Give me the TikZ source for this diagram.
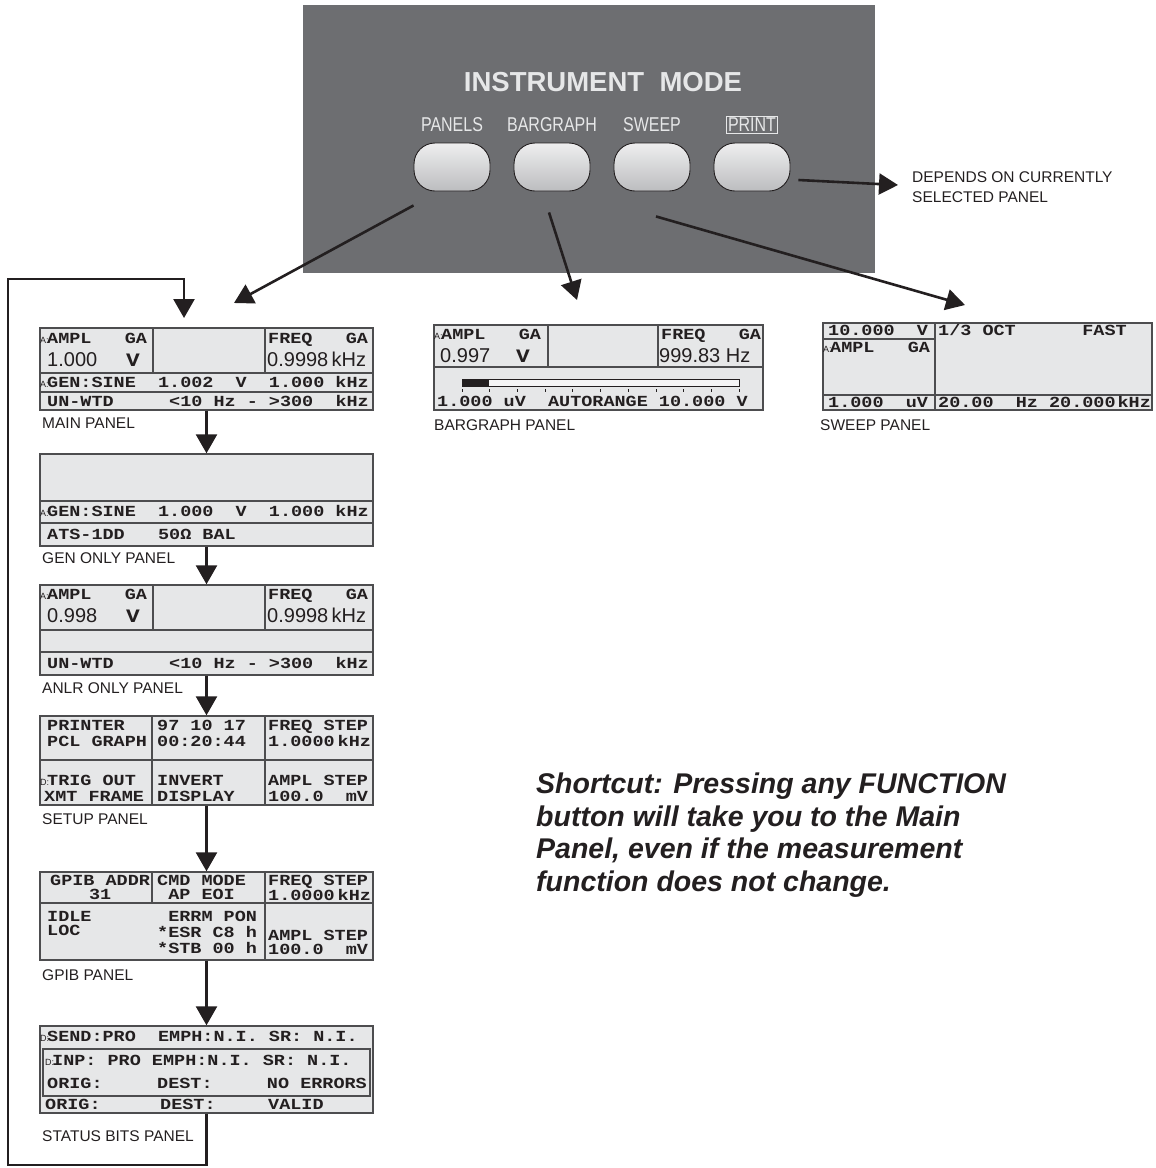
\documentclass[tikz,border=0pt]{standalone}
\usepackage{fontspec}
\setmainfont{Liberation Sans}
\newfontfamily\lcdfont[FakeStretch=1.2]{Liberation Mono}
\newfontfamily\narrowfont[FakeStretch=0.8]{Liberation Sans}
\usetikzlibrary{arrows.meta,calc}
\definecolor{ink}{HTML}{231F20}
\definecolor{bezel}{HTML}{6D6E71}
\definecolor{legend}{HTML}{E6E7E8}
\definecolor{lcdbg}{HTML}{E6E7E8}
\definecolor{lcdedge}{HTML}{4D4D4F}
\definecolor{keytop}{HTML}{EEEEEF}
\definecolor{keybot}{HTML}{BCBDBF}
\newcommand{\lcd}{\lcdfont\bfseries\fontsize{15.4}{15.4}\selectfont}
\newcommand{\pfx}[1]{\makebox[7pt][l]{\normalfont\fontsize{9}{9}\selectfont #1:}}
% stacked lcd lines: pitch, column alignment, lines
\newcommand{\stack}[3]{{\fontsize{15.4}{#1}\selectfont\begin{tabular}[t]{@{}#2@{}}#3\end{tabular}}}
\tikzset{
  lcdpanel/.style={draw=lcdedge,fill=lcdbg,line width=1.4pt,inner sep=0pt},
  lcdrule/.style={draw=lcdedge,line width=1.2pt},
  lcd/.style={anchor=base west,inner sep=0pt,font=\lcd,text=ink,text height=8.5pt,text depth=1pt},
  lcdstack/.style={anchor=base west,inner sep=0pt,font=\lcd,text=ink},
  bignum/.style={anchor=base west,inner sep=0pt,font=\fontsize{20}{20}\selectfont,text=ink},
  bigunit/.style={anchor=base west,inner sep=0pt,font=\lcdfont\bfseries\fontsize{19}{19}\selectfont,text=ink},
  plabel/.style={anchor=base west,inner sep=0pt,font=\fontsize{15.5}{15.5}\selectfont,text=ink},
  modekey/.style={draw=ink,line width=0.9pt,rounded corners=21pt,minimum width=76pt,minimum height=48pt,top color=keytop,bottom color=keybot},
  keylabel/.style={font=\narrowfont\fontsize{20}{20}\selectfont,text=legend,inner sep=1.5pt},
  flow/.style={-{Triangle[length=19pt,width=21pt]},line width=2.6pt,draw=ink}
}
\begin{document}
\begin{tikzpicture}[x=1pt,y=-1pt]
  \useasboundingbox (0,0) rectangle (1156,1168);
  % mode keys
  \fill[bezel] (303,5) rectangle (875,273);
  \node[font=\bfseries\fontsize{27.5}{27.5}\selectfont,text=legend] (title) at (603,82) {INSTRUMENT\ \ MODE};
  \node[keylabel] (lpanels) at (452,125) {PANELS};
  \node[keylabel] (lbar) at (552,125) {BARGRAPH};
  \node[keylabel] (lsweep) at (652,125) {SWEEP};
  \node[keylabel,draw=legend,line width=1pt] (lprint) at (752,125) {PRINT};
  \node[modekey] (bpanels) at (452,167) {};
  \node[modekey] (bbar) at (552,167) {};
  \node[modekey] (bsweep) at (652,167) {};
  \node[modekey] (bprint) at (752,167) {};
  \node[plabel,anchor=west,align=left,font=\fontsize{15.5}{20}\selectfont] (note) at (912,187) {DEPENDS ON CURRENTLY\\SELECTED PANEL};
  \coordinate (tipmain) at (234,303);
  \coordinate (tipbar) at (577,300);
  \coordinate (tipsweep) at (965,305);
  \coordinate (tipprint) at (898,185);
  \draw[flow] ($(bpanels.south west)+(0,14)$) -- (tipmain);
  \draw[flow] ($(bbar.south)+(-3,21)$) -- (tipbar);
  \draw[flow] ($(bsweep.south)+(4,25)$) -- (tipsweep);
  \draw[flow] ($(bprint.east)+(8,13)$) -- (tipprint);

  % main panel
  \node[lcdpanel,minimum width=333pt,minimum height=82pt] (mainp) at (206.5,369) {};
  \draw[lcdrule] (40,373) -- (373,373) (40,392) -- (373,392) (153,328) -- (153,373) (265,328) -- (265,373);
  \node[lcd] (m1) at (40,343) {\pfx{A}AMPL~~~GA};
  \node[lcd] (m2) at (268,343) {FREQ~~~GA};
  \node[bignum] (m3) at (47,366) {1.000};
  \node[bigunit] (m4) at (126,366) {V};
  \node[bignum] (m5) at (267,366) {0.9998\,kHz};
  \node[lcd] (m6) at (40,387) {\pfx{A}GEN:SINE~~1.002~~V~~1.000~kHz};
  \node[lcd] (m7) at (47,406) {UN-WTD~~~~~<10~Hz~-~>300~~kHz};
  \node[plabel] (mainl) at (42,428) {MAIN PANEL};

  % gen only panel
  \node[lcdpanel,minimum width=333pt,minimum height=92pt] (genp) at (206.5,500) {};
  \draw[lcdrule] (40,501) -- (373,501) (40,523) -- (373,523);
  \node[lcd] (g1) at (40,516.5) {\pfx{A}GEN:SINE~~1.000~~V~~1.000~kHz};
  \node[lcd] (g2) at (47,539) {ATS-1DD~~~50Ω~BAL};
  \node[plabel] (genl) at (42,563) {GEN ONLY PANEL};

  % anlr only panel
  \node[lcdpanel,minimum width=333pt,minimum height=90pt] (anlrp) at (206.5,630) {};
  \draw[lcdrule] (40,630) -- (373,630) (40,652) -- (373,652) (153,585) -- (153,630) (265,585) -- (265,630);
  \node[lcd] (a1) at (40,599) {\pfx{A}AMPL~~~GA};
  \node[lcd] (a2) at (268,599) {FREQ~~~GA};
  \node[bignum] (a3) at (47,622) {0.998};
  \node[bigunit] (a4) at (126,622) {V};
  \node[bignum] (a5) at (267,622) {0.9998\,kHz};
  \node[lcd] (a6) at (47,668) {UN-WTD~~~~~<10~Hz~-~>300~~kHz};
  \node[plabel] (anlrl) at (42,693) {ANLR ONLY PANEL};

  % setup panel
  \node[lcdpanel,minimum width=333pt,minimum height=89pt] (setupp) at (206.5,760.5) {};
  \draw[lcdrule] (40,760) -- (373,760) (152,716) -- (152,805) (265,716) -- (265,805);
  \node[lcdstack] (u1) at (47,730.5) {\stack{16}{l}{PRINTER\\PCL~GRAPH}};
  \node[lcdstack] (u2) at (40,785.5) {\stack{15.5}{l}{\pfx{D}TRIG~OUT\\\hspace{4pt}XMT~FRAME}};
  \node[lcdstack] (u3) at (157,730.5) {\stack{16}{l}{97~10~17\\00:20:44}};
  \node[lcdstack] (u4) at (157,785.5) {\stack{15.5}{l}{INVERT\\DISPLAY}};
  \node[lcdstack] (u5) at (268,730.5) {\stack{16}{l}{FREQ~STEP\\1.0000\hspace{3pt}kHz}};
  \node[lcdstack] (u6) at (268,785.5) {\stack{15.5}{l}{AMPL~STEP\\100.0~~mV}};
  \node[plabel] (setupl) at (42,824) {SETUP PANEL};

  % gpib panel
  \node[lcdpanel,minimum width=333pt,minimum height=88pt] (gpibp) at (206.5,916) {};
  \draw[lcdrule] (40,903) -- (373,903) (152,872) -- (152,903) (265,872) -- (265,960);
  \node[lcdstack] (p1) at (50,885) {\stack{13}{c}{GPIB~ADDR\\31}};
  \node[lcdstack] (p2) at (157,885) {\stack{13}{c}{CMD~MODE\\AP~EOI}};
  \node[lcdstack] (p3) at (268,885) {\stack{13}{l}{FREQ~STEP\\1.0000\hspace{3pt}kHz}};
  \node[lcdstack] (p4) at (47,921) {\stack{14.5}{l}{IDLE\\LOC}};
  \node[lcdstack] (p5) at (157,921) {\stack{16}{l}{~ERRM~PON\\\relax *ESR~C8~h\\\relax *STB~00~h}};
  \node[lcdstack] (p6) at (268,940) {\stack{13}{l}{AMPL~STEP\\100.0~~mV}};
  \node[plabel] (gpibl) at (42,980) {GPIB PANEL};

  % status bits panel
  \node[lcdpanel,minimum width=333pt,minimum height=87pt] (statusp) at (206.5,1069.5) {};
  \draw[lcdrule] (43,1049) rectangle (370,1096);
  \node[lcd] (t1) at (40,1041) {\pfx{D}SEND:PRO~~EMPH:N.I.~SR:~N.I.};
  \node[lcd] (t2) at (45,1065) {\pfx{D}INP:~PRO~EMPH:N.I.~SR:~N.I.};
  \node[lcd] (t3) at (47,1088) {ORIG:};
  \node[lcd] (t4) at (157,1088) {DEST:};
  \node[lcd,anchor=base east] (t5) at (367,1088) {NO~ERRORS};
  \node[lcd] (t6) at (45,1109.5) {ORIG:};
  \node[lcd] (t7) at (160,1109.5) {DEST:};
  \node[lcd] (t8) at (268,1109.5) {VALID};
  \node[plabel] (statusl) at (42,1141) {STATUS BITS PANEL};

  % bargraph panel
  \node[lcdpanel,minimum width=329pt,minimum height=85pt] (barp) at (598.5,367.5) {};
  \draw[lcdrule] (434,367) -- (763,367) (548,325) -- (548,367) (658,325) -- (658,367);
  \node[lcd] (r1) at (434,339) {\pfx{A}AMPL~~~GA};
  \node[lcd] (r2) at (661,339) {FREQ~~~GA};
  \node[bignum] (r3) at (440,362) {0.997};
  \node[bigunit] (r4) at (516,362) {V};
  \node[bignum] (r5) at (659,362) {999.83~Hz};
  \draw[ink,fill=white!60!lcdbg,line width=0.8pt] (462,379) rectangle (739,386);
  \fill[ink] (462,379) rectangle (489,386);
  \foreach \k in {0,...,10}
    \draw[ink,line width=0.8pt] ({462+27.7*\k},389) -- ++(0,3);
  \node[lcd] (r6) at (437,406) {1.000~uV~~AUTORANGE~10.000~V};
  \node[plabel] (barl) at (434,430) {BARGRAPH PANEL};

  % sweep panel
  \node[lcdpanel,minimum width=329pt,minimum height=87pt] (sweepp) at (987.5,366.5) {};
  \draw[lcdrule] (823,339) -- (935,339) (823,395) -- (1152,395) (935,323) -- (935,410);
  \node[lcd] (w1) at (828,335.5) {10.000~~V};
  \node[lcd] (w2) at (938,335.5) {1/3~OCT~~~~~~FAST};
  \node[lcd] (w3) at (823,352) {\pfx{A}AMPL~~~GA};
  \node[lcd] (w4) at (828,407) {1.000~~uV};
  \node[lcd] (w5) at (938,407) {20.00~~Hz~20.000\hspace{2pt}kHz};
  \node[plabel] (sweepl) at (820,430) {SWEEP PANEL};

  % panel sequence
  \draw[flow] (mainp.south) -- (genp.north);
  \draw[flow] (genp.south) -- (anlrp.north);
  \draw[flow] (anlrp.south) -- (setupp.north);
  \draw[flow] (setupp.south) -- (gpibp.north);
  \draw[flow] (gpibp.south) -- (statusp.north);
  \coordinate (loopbl) at (8,1165);
  \coordinate (looptl) at (8,279);
  \coordinate (loopin) at (184,318);
  \draw[flow] (statusp.south) |- (loopbl) -- (looptl) -| (loopin);

  \node[anchor=north west,align=left,inner sep=0pt,font=\bfseries\itshape\fontsize{28.5}{32.5}\selectfont,text=ink] (shortcut) at (536,773) {Shortcut: Pressing any FUNCTION\\button will take you to the Main\\Panel, even if the measurement\\function does not change.};
\end{tikzpicture}
\end{document}
